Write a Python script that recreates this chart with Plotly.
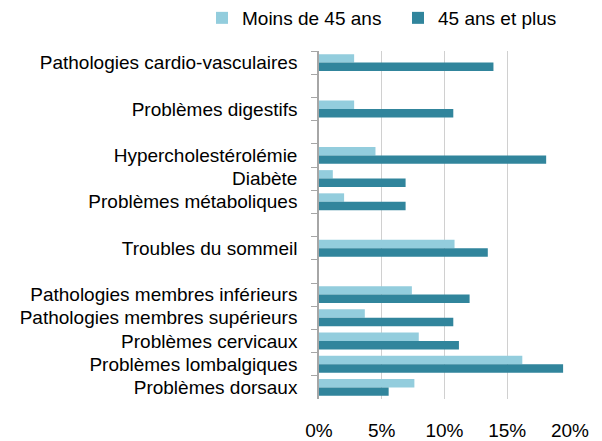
import plotly.graph_objects as go

categories = [
    "Pathologies cardio-vasculaires", " ",
    "Problèmes digestifs", "  ",
    "Hypercholestérolémie", "Diabète", "Problèmes métaboliques", "   ",
    "Troubles du sommeil", "    ",
    "Pathologies membres inférieurs", "Pathologies membres supérieurs",
    "Problèmes cervicaux", "Problèmes lombalgiques", "Problèmes dorsaux",
]
moins_45 = [2.8, None, 2.8, None, 4.5, 1.1, 2.0, None, 10.8, None, 7.4, 3.65, 7.95, 16.2, 7.6]
plus_45 = [13.9, None, 10.7, None, 18.1, 6.9, 6.9, None, 13.45, None, 12.0, 10.7, 11.15, 19.45, 5.55]
x_ticks = [0, 5, 10, 15, 20]
x_ticktext = ["0%", "5%", "10%", "15%", "20%"]

FONT = "Liberation Sans, Arial, sans-serif"
W, H = 602, 441
ML, MR, MT, MB = 319, 32, 51, 42
PW, PH = W - ML - MR, H - MT - MB

fig = go.Figure()
fig.add_trace(go.Bar(y=categories, x=moins_45, orientation="h", name="Moins de 45 ans",
                     marker=dict(color="#93CDDD", line=dict(width=0))))
fig.add_trace(go.Bar(y=categories, x=plus_45, orientation="h", name="45 ans et plus",
                     marker=dict(color="#31859C", line=dict(width=0))))

fig.update_layout(
    width=W, height=H,
    margin=dict(l=ML, r=MR, t=MT, b=MB, autoexpand=False),
    paper_bgcolor="white", plot_bgcolor="white",
    barmode="group", bargap=0.27, bargroupgap=0,
    font=dict(family=FONT, size=19, color="#000000"),
    showlegend=True,
    legend=dict(orientation="h",
                x=(202 - ML) / PW, y=1 + (MT + 1) / PH,
                xanchor="left", yanchor="top",
                font=dict(size=19), itemwidth=30,
                entrywidth=151, entrywidthmode="pixels",
                bgcolor="rgba(0,0,0,0)"),
)
fig.update_xaxes(range=[0, 20], tickvals=x_ticks, ticktext=x_ticktext,
                 showgrid=True, gridcolor="#D0D0D0", gridwidth=1,
                 zeroline=False, showline=False, automargin=False,
                 ticks="", ticklabelstandoff=18, fixedrange=True)
fig.update_yaxes(type="category", categoryorder="array", categoryarray=categories,
                 autorange="reversed", showgrid=False, zeroline=False,
                 tickmode="linear", tick0=0, dtick=1, automargin=False,
                 showline=True, linecolor="#A6A6A6", linewidth=1.5,
                 ticks="outside", ticklen=6, tickcolor="#A6A6A6", tickwidth=1,
                 tickson="boundaries", ticklabelstandoff=16, fixedrange=True)

fig.write_html("out.html", config={"displayModeBar": False},
               post_script="document.body.style.margin='0';")
